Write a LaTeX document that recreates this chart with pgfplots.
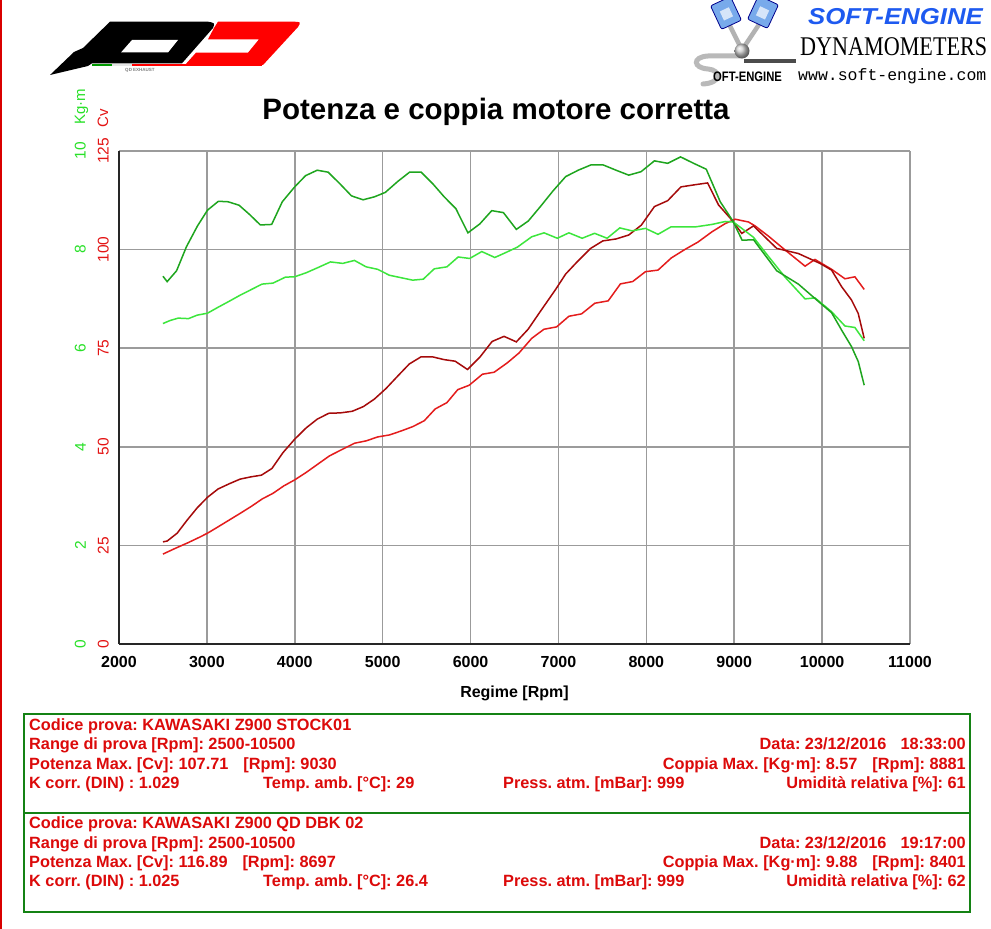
\documentclass[border=0pt]{standalone}
\usepackage{fontspec}
\setmainfont{Liberation Sans}
\newfontfamily\seriffam{Liberation Serif}
\newfontfamily\monofam{Liberation Mono}
\usepackage{graphicx}
\usepackage{pgfplots}
\usepackage{pgfplotstable}
\pgfplotsset{compat=1.18}
\frenchspacing

\definecolor{qdred}{RGB}{165,10,10}
\definecolor{stred}{RGB}{228,28,28}
\definecolor{qdgreen}{RGB}{30,165,30}
\definecolor{stgreen}{RGB}{60,230,60}
\definecolor{lblred}{RGB}{228,20,20}
\definecolor{lblgreen}{RGB}{40,225,40}
\definecolor{gridgray}{RGB}{155,155,155}
\definecolor{boxgreen}{RGB}{20,130,20}
\definecolor{infored}{RGB}{220,10,10}
\definecolor{seblue}{RGB}{30,90,240}
\definecolor{pistonblue}{RGB}{120,170,235}

% QD DBK 02 power [Cv]
\pgfplotstableread{
rpm cv
2500 25.9
2548 26.1
2662 28.1
2775 31.4
2889 34.5
3007 37.2
3127 39.3
3252 40.6
3377 41.8
3506 42.4
3620 42.8
3740 44.5
3865 48.5
3998 51.9
4130 54.8
4255 57.0
4387 58.5
4520 58.6
4653 59.0
4781 60.2
4906 62.1
5039 64.8
5170 67.9
5303 71.0
5436 72.8
5568 72.8
5700 72.1
5825 71.7
5965 69.6
6105 72.7
6245 76.7
6381 78.0
6521 76.6
6655 79.8
6790 84.2
6968 89.9
7082 93.8
7213 96.9
7366 100.3
7505 102.2
7656 102.7
7800 103.7
7943 106.2
8092 110.9
8243 112.4
8394 115.9
8540 116.4
8697 116.9
8822 111.3
8981 107.3
9086 104.1
9219 106.0
9484 100.3
9730 99.0
9976 96.5
10108 94.8
10222 90.6
10335 87.2
10411 83.8
10479 77.5
}\qdpower

% STOCK01 power [Cv]
\pgfplotstableread{
rpm cv
2500 22.8
2655 24.4
2787 25.7
2919 27.1
3007 28.1
3127 29.7
3252 31.4
3377 33.1
3506 34.9
3631 36.8
3752 38.2
3876 40.1
3998 41.6
4130 43.5
4262 45.6
4395 47.7
4527 49.2
4679 50.9
4812 51.5
4943 52.5
5076 53.0
5209 54.0
5341 55.1
5473 56.6
5598 59.6
5731 61.2
5855 64.5
5984 65.6
6135 68.4
6268 68.9
6419 71.3
6552 73.8
6696 77.5
6835 79.8
6979 80.4
7119 83.1
7263 83.7
7414 86.4
7566 87.0
7705 91.3
7845 91.9
7990 94.4
8133 94.8
8285 97.9
8444 100.1
8587 101.9
8746 104.5
8898 106.6
9011 107.7
9162 107.0
9238 106.0
9390 103.4
9579 99.9
9806 95.8
9919 97.5
10108 95.0
10260 92.6
10373 93.1
10479 89.9
}\stpower

% QD DBK 02 torque [Kg m]
\pgfplotstableread{
rpm kgm
2500 7.46
2548 7.35
2655 7.57
2768 8.06
2893 8.48
3007 8.80
3131 8.98
3241 8.97
3366 8.90
3487 8.71
3608 8.50
3737 8.51
3858 8.97
3998 9.27
4123 9.50
4255 9.61
4380 9.57
4516 9.33
4645 9.09
4777 9.01
4906 9.07
5030 9.16
5170 9.38
5306 9.57
5439 9.57
5568 9.34
5700 9.07
5833 8.83
5970 8.34
6105 8.52
6241 8.79
6374 8.75
6521 8.41
6657 8.58
6798 8.88
6938 9.19
7082 9.48
7225 9.61
7373 9.72
7505 9.72
7656 9.61
7800 9.51
7940 9.58
8092 9.80
8243 9.75
8390 9.88
8538 9.75
8682 9.63
8841 8.97
8981 8.59
9090 8.19
9220 8.20
9484 7.57
9730 7.30
9976 6.92
10108 6.72
10221 6.37
10335 6.03
10411 5.73
10479 5.25
}\qdtorque

% STOCK01 torque [Kg m]
\pgfplotstableread{
rpm kgm
2500 6.50
2579 6.56
2673 6.61
2791 6.60
2889 6.67
3007 6.71
3127 6.83
3252 6.95
3373 7.07
3506 7.19
3627 7.30
3752 7.32
3892 7.44
4001 7.45
4130 7.53
4270 7.64
4406 7.75
4546 7.72
4679 7.78
4812 7.65
4943 7.60
5076 7.48
5209 7.43
5341 7.38
5462 7.40
5587 7.61
5731 7.65
5859 7.85
5990 7.82
6128 7.96
6276 7.84
6401 7.94
6533 8.05
6696 8.26
6836 8.34
6987 8.23
7119 8.34
7270 8.23
7411 8.33
7554 8.23
7698 8.44
7838 8.38
7990 8.43
8133 8.31
8280 8.46
8557 8.46
8746 8.51
8898 8.57
8990 8.56
9219 8.25
9390 7.86
9579 7.44
9806 7.00
9919 7.02
10108 6.74
10260 6.45
10373 6.42
10479 6.15
}\sttorque

\begin{document}
\begin{tikzpicture}
\path[use as bounding box, fill=white] (0,0) rectangle (991bp,929bp);

% ---------- decorations (top-down coordinates in bp) ----------
\begin{scope}[x=1bp,y=-1bp,yshift=929bp]
  \draw[red!85!black, line width=1.5bp] (1.2,0) -- (1.2,929);
  % QD logo
  \fill[black] (50,75) -- (88,66) -- (92,63.3) -- (182,63.3) -- (213,28)
     .. controls (215,23) .. (208,21.7) -- (110,21.7) -- (83,48) -- (74,52) -- cycle;
  \fill[white] (132,40) -- (178,40) -- (168,52.5) -- (121,52.5) -- cycle;
  \fill[red] (218,21.7) -- (294,21.7) .. controls (301,22) .. (298,27) -- (263,65)
     -- (185,65) -- (196,52.7) -- (248,52.7) -- (259,39.3) -- (208,39.3) -- (214,28) -- cycle;
  \fill[green!60!black] (92,63.8) rectangle (112,66.3);
  \fill[gray!20] (112,63.8) rectangle (132,66.3);
  \fill[red] (132,63.8) rectangle (262,66.3);
  \node[inner sep=0pt, anchor=base, text=gray, font=\bfseries\fontsize{4.5bp}{5bp}\selectfont] at (140,71.5) {QD EXHAUST};
  % Soft-engine logo
  \draw[gray!55, line width=5bp, line cap=round] (742,56) -- (708,56)
     .. controls (692,57) and (693,68) .. (708,69) .. controls (721,70) and (722,83) .. (703,84);
  \fill[black!70] (744,59) rectangle (796,63);
  \draw[gray!60, line width=4.5bp] (727,20) -- (742,50);
  \draw[gray!60, line width=4.5bp] (762,20) -- (742,50);
  \shade[ball color=gray!40] (742,51) circle (7.5);
  \begin{scope}[shift={(726,13)}, rotate=25]
    \fill[pistonblue, draw=blue!55!black, line width=0.8bp, rounded corners=2bp] (-11bp,-13bp) rectangle (11bp,13bp);
    \fill[white!70!pistonblue] (-5bp,-6bp) rectangle (5bp,4bp);
  \end{scope}
  \begin{scope}[shift={(763,12)}, rotate=-25]
    \fill[pistonblue, draw=blue!55!black, line width=0.8bp, rounded corners=2bp] (-11bp,-13bp) rectangle (11bp,13bp);
    \fill[white!70!pistonblue] (-5bp,-6bp) rectangle (5bp,4bp);
  \end{scope}
  \node[anchor=base west, inner sep=0pt, text=seblue, font=\bfseries\itshape\fontsize{23bp}{23bp}\selectfont] at (808,25) {\scalebox{1.12}[1]{SOFT-ENGINE}};
  \node[anchor=base west, inner sep=0pt, font=\seriffam\fontsize{27bp}{27bp}\selectfont] at (800,55.5) {\scalebox{0.82}[1]{DYNAMOMETERS}};
  \node[anchor=base west, inner sep=0pt, font=\monofam\fontsize{16.5bp}{16.5bp}\selectfont] at (798,80.5) {www.soft-engine.com};
  \node[anchor=base west, inner sep=0pt, font=\bfseries\fontsize{12.5bp}{12.5bp}\selectfont] at (713,82) {\scalebox{0.9}[1.1]{OFT-ENGINE}};
  % title
  \node[anchor=base, inner sep=0pt, font=\bfseries\fontsize{29.5bp}{29.5bp}\selectfont] at (496,120) {Potenza e coppia motore corretta};
  % unit labels
  \node[rotate=90, anchor=base west, inner sep=0pt, text=lblgreen, font=\fontsize{15bp}{15bp}\selectfont] at (85,125) {Kg·m};
  \node[rotate=90, anchor=base west, inner sep=0pt, text=lblred, font=\fontsize{15bp}{15bp}\selectfont] at (108,128) {Cv};
\end{scope}

% ---------- power axis ----------
\begin{axis}[
  at={(119bp,285bp)}, anchor=south west,
  width=791bp, height=493bp, scale only axis,
  xmin=2000, xmax=11000, ymin=0, ymax=125,
  xtick={2000,3000,...,11000}, ytick={0,25,...,125},
  grid=major, grid style={color=gridgray, line width=1.6bp},
  axis lines=left, axis line style={-, draw=black!85, line width=2bp},
  major tick length=0pt,
  scaled ticks=false,
  /pgf/number format/1000 sep={},
  /pgf/number format/assume math mode=true,
  xticklabel style={font=\bfseries\fontsize{16bp}{16bp}\selectfont, inner sep=0pt, text=black},
  xticklabel shift=12bp,
  yticklabel style={font=\fontsize{15.5bp}{15.5bp}\selectfont, text=lblred, rotate=90, anchor=south, inner sep=0pt},
  yticklabel shift=10bp,
  xlabel={Regime [Rpm]},
  xlabel style={font=\bfseries\fontsize{16bp}{16bp}\selectfont, at={(axis description cs:0.5,0)}, anchor=north, yshift=-42bp, inner sep=0pt},
]
\addplot[stred, line width=1.5bp, mark=none] table[x=rpm, y=cv] {\stpower};
\addplot[qdred, line width=1.5bp, mark=none] table[x=rpm, y=cv] {\qdpower};
\end{axis}

% ---------- torque axis ----------
\begin{axis}[
  at={(119bp,285bp)}, anchor=south west,
  width=791bp, height=493bp, scale only axis,
  xmin=2000, xmax=11000, ymin=0, ymax=10,
  xtick=\empty, ytick={0,2,...,10},
  axis line style={draw=none}, major tick length=0pt,
  /pgf/number format/assume math mode=true,
  yticklabel style={font=\fontsize{15.5bp}{15.5bp}\selectfont, text=lblgreen, rotate=90, anchor=south, inner sep=0pt},
  yticklabel shift=33bp,
]
\addplot[stgreen, line width=1.5bp, mark=none] table[x=rpm, y=kgm] {\sttorque};
\addplot[qdgreen, line width=1.5bp, mark=none] table[x=rpm, y=kgm] {\qdtorque};
\end{axis}

% ---------- info boxes ----------
\begin{scope}[x=1bp,y=-1bp,yshift=929bp,
  every node/.style={inner sep=0pt, text=infored, font=\bfseries\fontsize{16.3bp}{16.3bp}\selectfont}]
  \draw[boxgreen, line width=1.5bp] (24,714) rectangle (970,912);
  \draw[boxgreen, line width=1.5bp] (24,813) -- (970,813);
  % block 1
  \node[anchor=base west] at (29,730.7) {Codice prova: KAWASAKI Z900 STOCK01};
  \node[anchor=base west] at (29,750) {Range di prova [Rpm]: 2500-10500};
  \node[anchor=base east] at (966,750) {Data: 23/12/2016\hspace{14bp}18:33:00};
  \node[anchor=base west] at (29,769.3) {Potenza Max. [Cv]: 107.71\hspace{15bp}[Rpm]: 9030};
  \node[anchor=base east] at (966,769.3) {Coppia Max. [Kg·m]: 8.57\hspace{15bp}[Rpm]: 8881};
  \node[anchor=base west] at (29,788.7) {K corr. (DIN) : 1.029};
  \node[anchor=base west] at (263,788.7) {Temp. amb. [°C]: 29};
  \node[anchor=base west] at (503,788.7) {Press. atm. [mBar]: 999};
  \node[anchor=base east] at (966,788.7) {Umidità relativa [\%]: 61};
  % block 2
  \node[anchor=base west] at (29,829) {Codice prova: KAWASAKI Z900 QD DBK 02};
  \node[anchor=base west] at (29,848.3) {Range di prova [Rpm]: 2500-10500};
  \node[anchor=base east] at (966,848.3) {Data: 23/12/2016\hspace{14bp}19:17:00};
  \node[anchor=base west] at (29,867.6) {Potenza Max. [Cv]: 116.89\hspace{15bp}[Rpm]: 8697};
  \node[anchor=base east] at (966,867.6) {Coppia Max. [Kg·m]: 9.88\hspace{15bp}[Rpm]: 8401};
  \node[anchor=base west] at (29,887) {K corr. (DIN) : 1.025};
  \node[anchor=base west] at (263,887) {Temp. amb. [°C]: 26.4};
  \node[anchor=base west] at (503,887) {Press. atm. [mBar]: 999};
  \node[anchor=base east] at (966,887) {Umidità relativa [\%]: 62};
\end{scope}
\end{tikzpicture}
\end{document}
